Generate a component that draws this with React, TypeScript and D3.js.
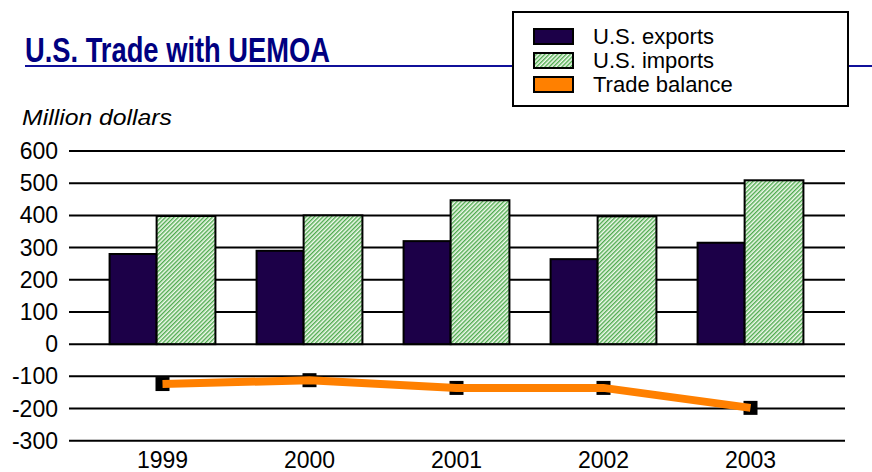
import React from "react";
import * as d3 from "d3";

const years = ["1999", "2000", "2001", "2002", "2003"];
const exportsVals = [280, 290, 320, 264, 315];
const importsVals = [398, 400, 447, 397, 509];
const balanceVals = [-124, -112, -136, -136, -198];
const yTicks = [600, 500, 400, 300, 200, 100, 0, -100, -200, -300];
const legendItems = ["U.S. exports", "U.S. imports", "Trade balance"];

const W = 872;
const H = 472;
const font = "'Liberation Sans', Arial, sans-serif";

export default function App() {
  const y = d3.scaleLinear().domain([-300, 600]).range([440.7, 151]);
  const x = d3.scaleBand<string>().domain(years).range([89, 824]);
  const step = x.step();
  const expW = step * 0.32;
  const impW = step * 0.4;
  const cx = (yr: string) => (x(yr) as number) + x.bandwidth() / 2;
  const groupLeft = (yr: string) => cx(yr) - (expW + impW) / 2;

  const line = d3
    .line<number>()
    .x((d, i) => cx(years[i]))
    .y((d) => y(d));

  const swatchFill = ["#1c0048", "url(#hatch)", "#ff8000"];

  return (
    <div style={{ position: "fixed", left: 0, top: 0, width: W, height: H, overflow: "hidden" }}>
      <svg width={W} height={H} style={{ display: "block", background: "white" }}>
        <defs>
          <pattern id="hatch" width="3" height="3" patternUnits="userSpaceOnUse" patternTransform="rotate(45)">
            <rect width="3" height="3" fill="#f2faee" />
            <rect width="1.4" height="3" fill="#4eaa4e" />
          </pattern>
        </defs>

        {/* title */}
        <text x={25} y={62} fontFamily={font} fontWeight="bold" fontSize={35} fill="#000080" textLength={305} lengthAdjust="spacingAndGlyphs">
          U.S. Trade with UEMOA
        </text>
        <line x1={25} x2={W} y1={66} y2={66} stroke="#10109a" strokeWidth={2.2} />

        {/* legend */}
        <rect x={513} y={12} width={335} height={94} fill="white" stroke="black" strokeWidth={2} />
        {legendItems.map((t, i) => (
          <g key={t}>
            <rect x={534} y={29 + i * 24} width={39} height={15} fill={swatchFill[i]} stroke="black" strokeWidth={2} />
            <text x={593} y={44 + i * 24} fontFamily={font} fontSize={22} fill="black">
              {t}
            </text>
          </g>
        ))}

        <text x={22} y={125} fontFamily={font} fontStyle="italic" fontSize={22} textLength={150} lengthAdjust="spacingAndGlyphs">
          Million dollars
        </text>

        {/* gridlines + y labels */}
        {yTicks.map((t) => (
          <g key={t}>
            <line x1={69} x2={845} y1={y(t)} y2={y(t)} stroke="black" strokeWidth={2} />
            <text x={58} y={y(t) + 8} textAnchor="end" fontFamily={font} fontSize={23}>
              {t}
            </text>
          </g>
        ))}

        {/* bars */}
        {years.map((yr, i) => (
          <g key={yr}>
            <rect x={groupLeft(yr)} y={y(exportsVals[i])} width={expW} height={y(0) - y(exportsVals[i])} fill="#1c0048" stroke="black" strokeWidth={2} />
            <rect x={groupLeft(yr) + expW} y={y(importsVals[i])} width={impW} height={y(0) - y(importsVals[i])} fill="url(#hatch)" stroke="black" strokeWidth={2} />
            <text x={cx(yr)} y={468} textAnchor="middle" fontFamily={font} fontSize={23}>
              {yr}
            </text>
          </g>
        ))}

        {/* trade balance */}
        {balanceVals.map((v, i) => (
          <rect key={i} x={cx(years[i]) - 7} y={y(v) - 7} width={14} height={14} fill="black" />
        ))}
        <path d={line(balanceVals) as string} fill="none" stroke="#ff8000" strokeWidth={8} />
      </svg>
    </div>
  );
}
